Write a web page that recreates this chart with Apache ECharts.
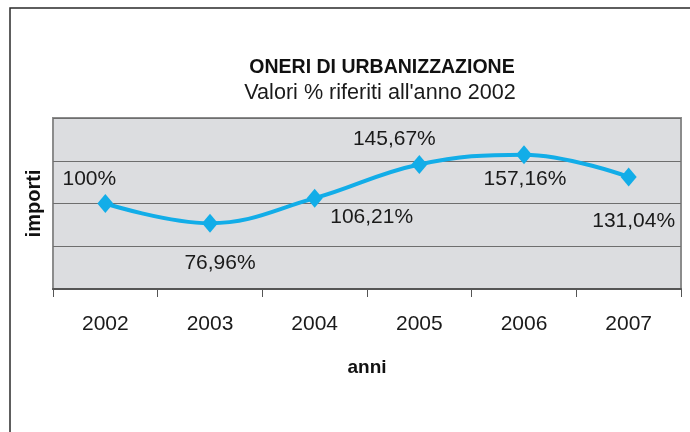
<!DOCTYPE html>
<html>
<head>
<meta charset="utf-8">
<script src="https://cdn.jsdelivr.net/npm/echarts@6/dist/echarts.min.js"></script>
<style>
html,body{margin:0;padding:0;background:#fff;}
#c{width:690px;height:432px;}
</style>
</head>
<body>
<div id="c"></div>
<script>
var categories = ['2002', '2003', '2004', '2005', '2006', '2007'];
var values = [100, 76.96, 106.21, 145.67, 157.16, 131.04];
var labelTexts = ['100%', '76,96%', '106,21%', '145,67%', '157,16%', '131,04%'];
var labelOffsets = [[-16, -24], [10, 40], [57, 19], [-25, -25], [1, 25], [5, 44]];

var FONT = '"Liberation Sans", Arial, Helvetica, sans-serif';
var chart = echarts.init(document.getElementById('c'));

var seriesData = values.map(function (v, i) {
  return {
    value: v,
    label: {
      show: true,
      position: 'inside',
      offset: labelOffsets[i],
      formatter: labelTexts[i],
      fontFamily: FONT,
      fontSize: 21,
      color: '#1a1a1a'
    }
  };
});

chart.setOption({
  animation: false,
  backgroundColor: '#ffffff',
  title: [{
    text: 'ONERI DI URBANIZZAZIONE',
    left: 377,
    top: 53,
    textAlign: 'center',
    textStyle: { fontFamily: FONT, fontSize: 19.5, fontWeight: 'bold', color: '#111' }
  }, {
    text: "Valori % riferiti all'anno 2002",
    left: 375,
    top: 77,
    textAlign: 'center',
    textStyle: { fontFamily: FONT, fontSize: 21.6, fontWeight: 'normal', color: '#1a1a1a' }
  }],
  graphic: [{
    type: 'rect',
    shape: { x: 10, y: 8, width: 720, height: 460 },
    style: { fill: 'none', stroke: '#2a2a2a', lineWidth: 1.5 },
    silent: true
  }],
  grid: {
    left: 53, right: 9, top: 118, height: 171,
    show: true,
    backgroundColor: '#dcdde0',
    borderColor: '#8c8c8c',
    borderWidth: 2
  },
  xAxis: {
    type: 'category',
    data: categories,
    boundaryGap: true,
    name: 'anni',
    nameLocation: 'middle',
    nameGap: 69,
    nameTextStyle: { fontFamily: FONT, fontSize: 19, fontWeight: 'bold', color: '#111' },
    axisLine: { show: true, lineStyle: { color: '#555', width: 2 } },
    axisTick: { show: true, length: 8, lineStyle: { color: '#555', width: 1 } },
    axisLabel: { margin: 25, fontFamily: FONT, fontSize: 21, color: '#1a1a1a' },
    splitLine: { show: false }
  },
  yAxis: {
    type: 'value',
    min: 0,
    max: 200,
    interval: 50,
    name: 'importi',
    nameLocation: 'middle',
    nameGap: 9,
    nameRotate: 90,
    nameTextStyle: { fontFamily: FONT, fontSize: 20, fontWeight: 'bold', color: '#111' },
    axisLine: { show: false },
    axisTick: { show: false },
    axisLabel: { show: false },
    splitLine: { show: true, lineStyle: { color: '#6e6e6e', width: 1 } }
  },
  series: [{
    type: 'line',
    data: seriesData,
    smooth: 0.4,
    symbol: 'diamond',
    symbolSize: [16, 19],
    lineStyle: { color: '#12ade8', width: 4 },
    itemStyle: { color: '#12ade8' }
  }]
});
</script>
</body>
</html>
